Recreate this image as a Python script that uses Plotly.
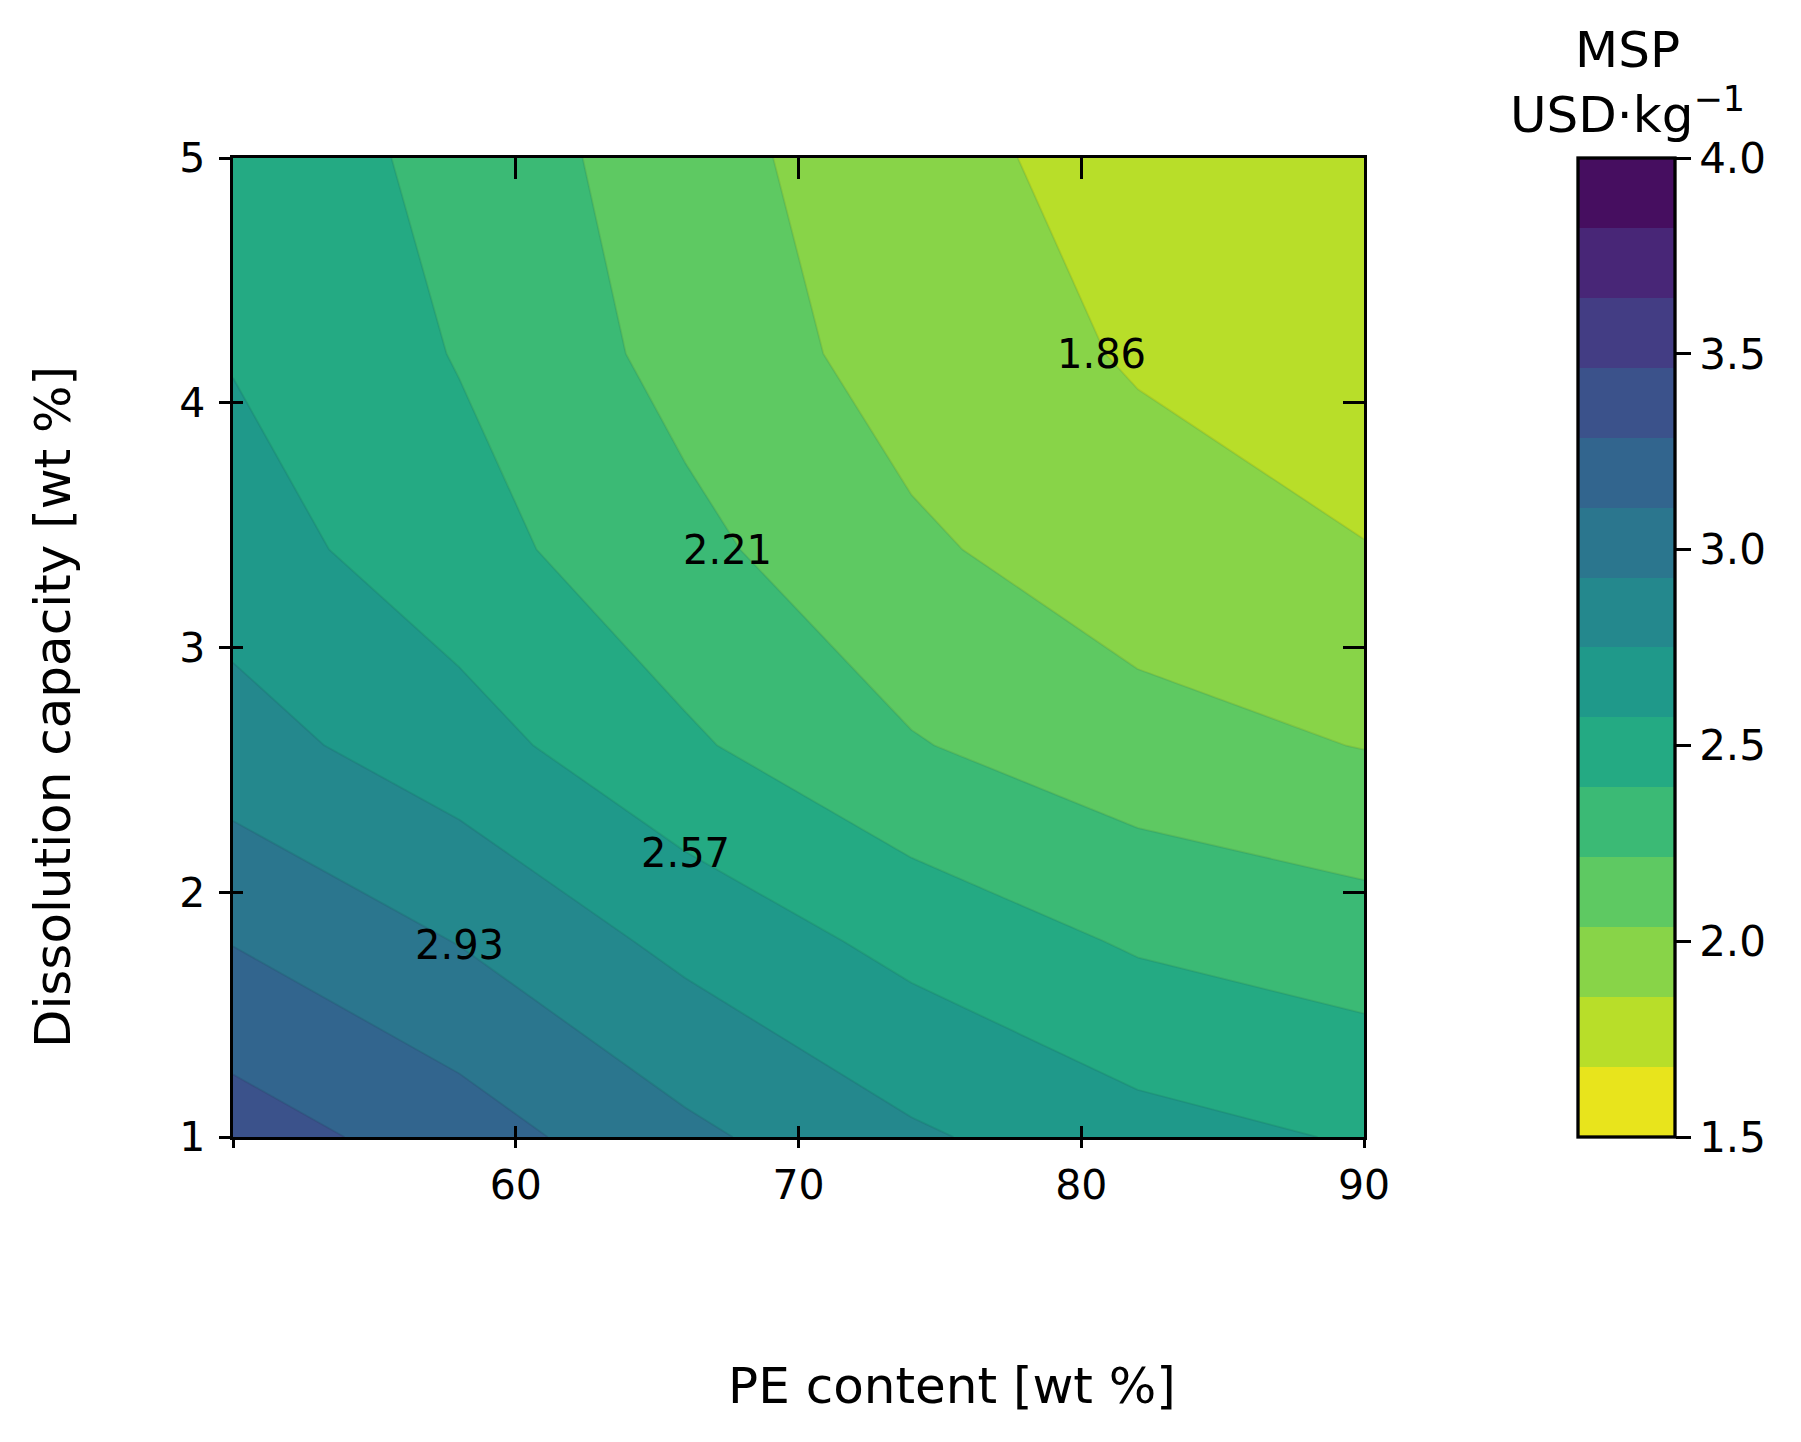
import plotly.graph_objects as go

# ---------------- data ----------------
pe_content = [50, 58, 66, 74, 82, 90]                 # x grid [wt %]
dissolution_capacity = [1.0, 1.8, 2.6, 3.4, 4.2, 5.0]  # y grid [wt %]
msp = [                                                # MSP [USD/kg], rows follow dissolution_capacity
    [3.373, 3.196, 2.969, 2.776, 2.635, 2.555],
    [3.100, 2.922, 2.699, 2.516, 2.371, 2.298],
    [2.821, 2.645, 2.420, 2.227, 2.100, 2.030],
    [2.653, 2.461, 2.262, 2.065, 1.935, 1.862],
    [2.560, 2.383, 2.154, 1.960, 1.840, 1.770],
    [2.540, 2.330, 2.118, 1.906, 1.802, 1.735],
]
x_ticks = [50, 60, 70, 80, 90]
x_labelled_ticks = [60, 70, 80, 90]
y_ticks = [1, 2, 3, 4, 5]
cbar_ticks = [1.5, 2.0, 2.5, 3.0, 3.5, 4.0]
level_min, level_max, n_bands = 1.5, 4.0, 14
labelled_levels = [2, 4, 6, 8]          # indices of contour levels carrying a label
label_x = [80.7, 67.5, 66.0, 58.0]
label_y = [4.20, 3.40, 2.16, 1.785]

# ---------------- style ----------------
FONT = "DejaVu Sans"
band_colors = [  # viridis_r sampled at band centres, lowest band first
    "#e8e41c", "#b8de29", "#88d448", "#5ec962", "#3bba75", "#24aa83", "#1f998a",
    "#24888d", "#2b768e", "#32658e", "#3b528b", "#433d84", "#482677", "#460e60",
]
cs = (level_max - level_min) / n_bands

# colour scale for the contour fill (plotly samples band k at (k+1)/(n+1))
m = n_bands + 1
fill_scale = [[0.0, band_colors[0]], [0.5 / m, band_colors[0]]]
for k, c in enumerate(band_colors):
    fill_scale.append([(k + 0.5) / m, c])
    fill_scale.append([min((k + 1.5) / m, 1.0), c])
fill_scale.append([1.0, band_colors[-1]])

# stepped colour scale for the colour bar
bar_scale = []
for k, c in enumerate(band_colors):
    bar_scale.append([k / n_bands, c])
    bar_scale.append([(k + 1) / n_bands, c])

fig = go.Figure()
fig.add_trace(go.Contour(
    x=pe_content, y=dissolution_capacity, z=msp,
    contours=dict(start=level_min, end=level_max, size=cs, coloring="fill", showlabels=False),
    line=dict(width=2, color="rgba(0,0,0,0.07)", smoothing=0),
    colorscale=fill_scale, showscale=False, hoverinfo="skip",
))

# colour bar carrier
fig.add_trace(go.Scatter(
    x=[pe_content[0]], y=[dissolution_capacity[0]], mode="markers",
    marker=dict(size=1, opacity=0, color=[level_min], cmin=level_min, cmax=level_max,
                colorscale=bar_scale, showscale=True,
                colorbar=dict(
                    x=(1578 - 233) / 1131, xanchor="left", xpad=0, ypad=0,
                    y=0.5, yanchor="middle", len=1, lenmode="fraction",
                    thickness=97, thicknessmode="pixels",
                    outlinewidth=3.3, outlinecolor="black", borderwidth=0,
                    ticks="outside", ticklen=14.6, tickwidth=3.3, tickcolor="black",
                    tickvals=cbar_ticks, ticktext=[f"{v:.1f}" for v in cbar_ticks],
                    tickfont=dict(family=FONT, size=42, color="black"),
                )),
    hoverinfo="skip", showlegend=False,
))
# empty traces to activate the tick-only overlay axes
fig.add_trace(go.Scatter(x=[], y=[], xaxis="x2", yaxis="y2", showlegend=False, hoverinfo="skip"))
fig.add_trace(go.Scatter(x=[], y=[], xaxis="x3", yaxis="y3", showlegend=False, hoverinfo="skip"))

xr = [pe_content[0], pe_content[-1]]
yr = [dissolution_capacity[0], dissolution_capacity[-1]]
common = dict(showgrid=False, zeroline=False, tickwidth=3.3, tickcolor="black")

fig.update_layout(
    width=1801, height=1442,
    margin=dict(l=233, r=437, t=158, b=305, autoexpand=False),
    paper_bgcolor="white", plot_bgcolor="white",
    showlegend=False, hovermode=False,
    font=dict(family=FONT, color="black"),
    # labelled bottom axis: inward half of the crossing ticks
    xaxis=dict(range=xr, tickvals=x_labelled_ticks, ticktext=[str(v) for v in x_labelled_ticks],
               ticks="inside", ticklen=10.4,
               showline=True, linewidth=3.3, linecolor="black", mirror=True,
               tickfont=dict(family=FONT, size=41, color="black"), ticklabelstandoff=10, **common),
    yaxis=dict(range=yr, tickvals=y_ticks, ticktext=[str(v) for v in y_ticks], ticks="outside", ticklen=10.4,
               showline=True, linewidth=3.3, linecolor="black", mirror=True,
               tickfont=dict(family=FONT, size=41, color="black"), ticklabelstandoff=6, **common),
    # outward half of the bottom ticks
    xaxis2=dict(range=xr, overlaying="x", anchor="y", side="bottom", tickvals=x_ticks,
                ticks="outside", ticklen=10.4, showticklabels=False, showline=False, **common),
    yaxis2=dict(range=yr, overlaying="y", anchor="x", side="left", tickvals=y_ticks,
                ticks="inside", ticklen=10.4, showticklabels=False, showline=False, **common),
    xaxis3=dict(range=xr, overlaying="x", anchor="y", side="top", tickvals=x_ticks,
                ticks="inside", ticklen=20.8, showticklabels=False, showline=False, **common),
    yaxis3=dict(range=yr, overlaying="y", anchor="x", side="right", tickvals=y_ticks,
                ticks="inside", ticklen=20.8, showticklabels=False, showline=False, **common),
)

annotations = []
for idx, lx, ly in zip(labelled_levels, label_x, label_y):
    annotations.append(dict(x=lx, y=ly, xref="x", yref="y", text=f"{level_min + idx * cs:.2f}",
                            showarrow=False, xanchor="center", yanchor="middle",
                            font=dict(family=FONT, size=40, color="black")))
annotations.append(dict(x=(951.6 - 233) / 1131, y=(1137 - 1386) / 979, xref="paper", yref="paper",
                        text="PE content [wt %]", showarrow=False, xanchor="center", yanchor="middle",
                        font=dict(family=FONT, size=50, color="black")))
annotations.append(dict(x=(52.5 - 233) / 1131, y=(1137 - 707.6) / 979, xref="paper", yref="paper",
                        text="Dissolution capacity [wt %]", textangle=-90, showarrow=False,
                        xanchor="center", yanchor="middle",
                        font=dict(family=FONT, size=50, color="black")))
annotations.append(dict(x=(1627 - 233) / 1131, y=(1137 - 146) / 979, xref="paper", yref="paper",
                        text="MSP<br>USD·kg<sup>−1</sup>", showarrow=False, xanchor="center", yanchor="bottom",
                        font=dict(family=FONT, size=50, color="black")))
fig.update_layout(annotations=annotations)

fig.write_html("out.html")
